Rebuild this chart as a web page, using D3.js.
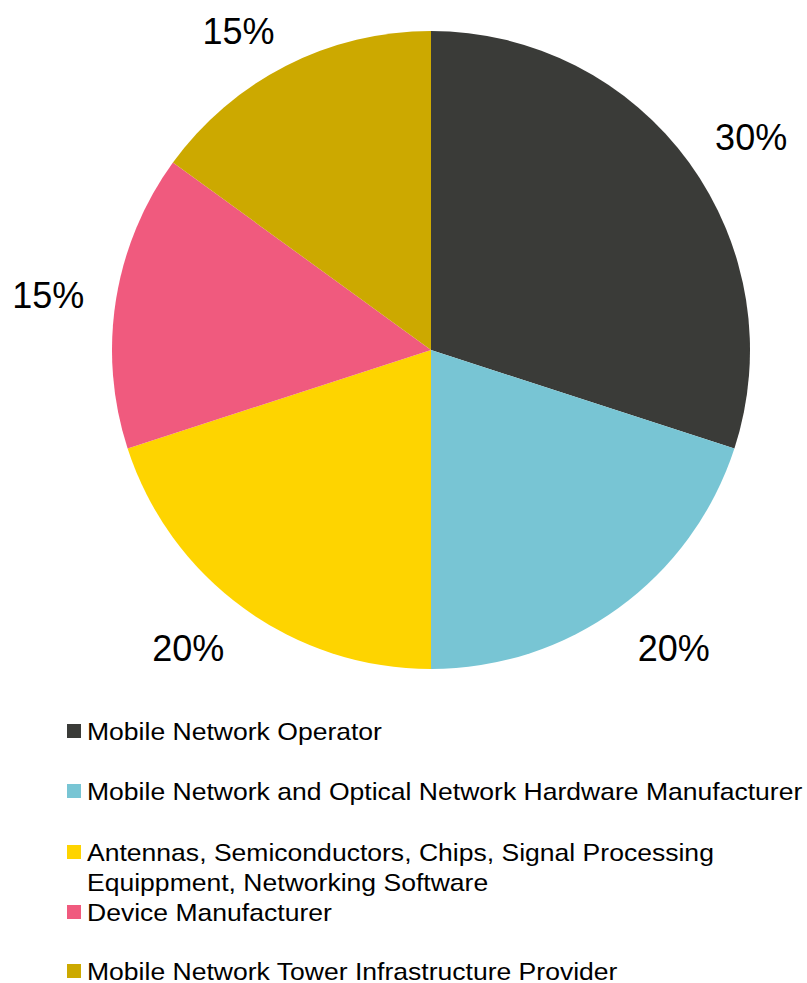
<!DOCTYPE html>
<html><head><meta charset="utf-8">
<script src="https://cdn.jsdelivr.net/npm/d3@7"></script>
<style>body{margin:0;background:#fff}</style>
</head><body>
<svg id="c" width="807" height="983"></svg>
<script>
const categories = ["Mobile Network Operator","Mobile Network and Optical Network Hardware Manufacturer","Antennas, Semiconductors, Chips, Signal Processing|Equippment, Networking Software","Device Manufacturer","Mobile Network Tower Infrastructure Provider"];
const values = [30,20,20,15,15];
const labels = ["30%","20%","20%","15%","15%"];
const colors = ["#3a3b38","#78c5d4","#fed400","#f05a7e","#cca900"];

const FONT = "Liberation Sans, Arial, sans-serif";
const svg = d3.select("#c");
const cx=431, cy=350, r=319;
const pie = d3.pie().sort(null).value(d=>d)(values);
const arc = d3.arc().innerRadius(0).outerRadius(r);
const g = svg.append("g").attr("transform",`translate(${cx},${cy})`);
g.selectAll("path").data(pie).enter().append("path").attr("d",arc).attr("fill",(d,i)=>colors[i]);

// outside-end labels: box placed just outside the rim along the mid-angle
const gap = 31, halfW = 37, halfH = 11, dy = 4;
const clamp = v => Math.max(-1, Math.min(1, v));
g.selectAll("text").data(pie).enter().append("text")
 .each(function(d,i){
   const a = (d.startAngle + d.endAngle)/2;
   const ux = Math.sin(a), uy = -Math.cos(a);
   const x = (r+gap)*ux + halfW*clamp(2*ux);
   const y = (r+gap)*uy + halfH*clamp(2*uy) + dy;
   d3.select(this).attr("x",x).attr("y",y);
 })
 .attr("text-anchor","middle").attr("dominant-baseline","central")
 .attr("font-family",FONT).attr("font-size",36).attr("fill","#000")
 .text((d,i)=>labels[i]);

const rowY=[731,791,852,912,971];
const lg = svg.append("g");
categories.forEach((c,i)=>{
  lg.append("rect").attr("x",67).attr("y",rowY[i]-7).attr("width",14).attr("height",14).attr("fill",colors[i]);
  c.split("|").forEach((line,j)=>{
    lg.append("text").attr("transform",`translate(87,${rowY[i]+j*30}) scale(1.106,1)`)
      .attr("dominant-baseline","central")
      .attr("font-family",FONT).attr("font-size",24).attr("fill","#000").text(line);
  });
});
</script>
</body></html>
